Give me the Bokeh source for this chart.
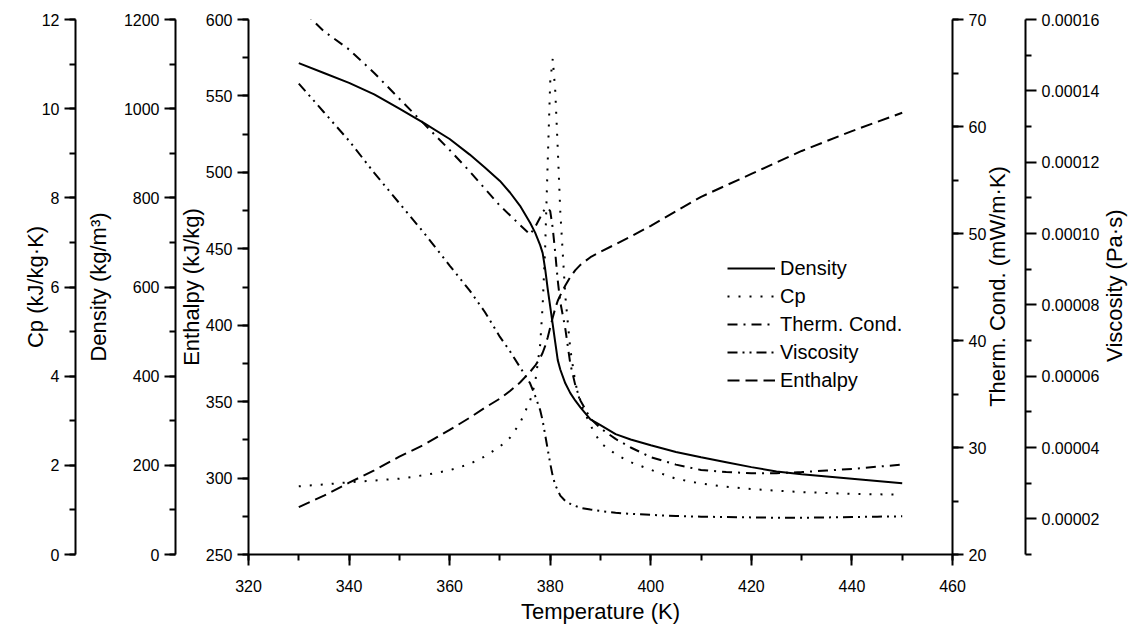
import math
from bokeh.plotting import figure
from bokeh.models import (LinearAxis, Range1d, FixedTicker, PrintfTickFormatter)
from bokeh.embed import file_html
from bokeh.resources import INLINE

temperature = [330, 335, 340, 345, 350, 355, 360, 364, 367, 370, 372, 374, 376, 377, 378,
               378.5, 379, 379.5, 380, 380.5, 381, 381.5, 382, 383, 384, 385, 386, 388, 390,
               393, 396, 400, 405, 410, 415, 420, 425, 430, 435, 440, 445, 450]

density = [1102, 1080, 1058, 1032, 1000, 967, 932, 897, 868, 838, 812, 782, 744, 722, 694,
           676, 640, 596, 556, 516, 476, 436, 415, 384, 362, 345, 330, 303, 290,
           270, 258, 245, 230, 218, 207, 196, 186, 180, 175, 170, 165, 160]

cp = [1.53, 1.57, 1.62, 1.66, 1.70, 1.78, 1.89, 2.03, 2.2, 2.42, 2.62, 2.95, 3.45, 3.85, 4.7,
      5.6, 6.9, 8.8, 10.6, 11.12, 10.4, 9.1, 7.7, 5.8, 4.6, 3.85, 3.4, 2.9, 2.5,
      2.25, 2.07, 1.9, 1.7, 1.59, 1.52, 1.47, 1.43, 1.40, 1.38, 1.36, 1.35, 1.34]

therm_cond = [71.2, 68.9, 67.2, 65.0, 62.6, 60.2, 57.8, 55.8, 54.2, 52.6, 51.7, 50.8, 49.9, 50.6, 51.5,
              52.0, 52.3, 52.4, 52.1, 50.5, 48.2, 45.6, 43.6, 41.1, 37.8, 35.8, 34.4, 32.7, 31.8,
              30.8, 30.0, 29.1, 28.4, 27.9, 27.7, 27.6, 27.6, 27.7, 27.85, 28.0, 28.2, 28.4]

viscosity = [1.42e-4, 1.34e-4, 1.26e-4, 1.17e-4, 1.085e-4, 1.0e-4, 9.1e-5, 8.4e-5, 7.8e-5, 7.1e-5,
             6.7e-5, 6.25e-5, 5.8e-5, 5.45e-5, 5.05e-5, 4.75e-5, 4.35e-5, 3.95e-5, 3.55e-5, 3.2e-5,
             2.95e-5, 2.8e-5, 2.65e-5, 2.5e-5, 2.42e-5, 2.36e-5, 2.31e-5, 2.26e-5, 2.22e-5,
             2.17e-5, 2.14e-5, 2.11e-5, 2.08e-5, 2.06e-5, 2.05e-5, 2.04e-5, 2.03e-5, 2.03e-5,
             2.04e-5, 2.05e-5, 2.06e-5, 2.07e-5]

enthalpy = [281, 288.5, 297, 305, 314, 322, 331.5, 339.5, 346, 352, 357, 362.5, 369.5, 373.5, 378.5,
            382, 386.5, 392, 398.5, 405, 411, 416, 419.5, 426, 431.5, 436, 439.5, 444.5, 448,
            453, 458, 465, 474.5, 484, 491.5, 499, 506.5, 514, 520.5, 527, 533, 539]

x_ticks = [320, 340, 360, 380, 400, 420, 440, 460]
enthalpy_ticks = [250, 300, 350, 400, 450, 500, 550, 600]
density_ticks = [0, 200, 400, 600, 800, 1000, 1200]
cp_ticks = [0, 2, 4, 6, 8, 10, 12]
tc_ticks = [20, 30, 40, 50, 60, 70]
visc_ticks = [2e-5, 4e-5, 6e-5, 8e-5, 1.0e-4, 1.2e-4, 1.4e-4, 1.6e-4]
visc_minor = [1e-5, 3e-5, 5e-5, 7e-5, 9e-5, 1.1e-4, 1.3e-4, 1.5e-4]

tc_title = "Therm. Cond. (mW/m·K)"
visc_title = "Viscosity (Pa·s)"
tc_title_at = 33.8        # lower end of the rotated title text (data units of its axis)
visc_title_at = 6.4e-05

FONT = "Liberation Sans"
TICK_FS = "16px"
TITLE_FS = "22px"

p = figure(width=1146, height=633, output_backend="svg", toolbar_location=None,
           x_range=Range1d(320, 460), y_range=Range1d(250, 600),
           min_border_left=248, min_border_right=194, min_border_top=19, min_border_bottom=79)
p.grid.visible = False
p.outline_line_color = None
p.background_fill_color = "white"
p.border_fill_color = "white"

p.extra_y_ranges = {
    "density": Range1d(0, 1200),
    "cp": Range1d(0, 12),
    "tc": Range1d(20, 70),
    "visc": Range1d(1e-5, 1.6e-4),
}


def style(ax, title):
    ax.axis_label = title
    ax.axis_label_text_font = FONT
    ax.axis_label_text_font_size = TITLE_FS
    ax.axis_label_text_font_style = "normal"
    ax.axis_label_text_color = "black"
    ax.major_label_text_font = FONT
    ax.major_label_text_font_size = TICK_FS
    ax.major_label_text_color = "black"
    ax.axis_line_width = 2
    ax.axis_line_color = "black"
    ax.major_tick_line_width = 2
    ax.minor_tick_line_width = 2
    ax.major_tick_line_color = "black"
    ax.minor_tick_line_color = "black"
    ax.major_tick_out = 11
    ax.major_tick_in = 0
    ax.minor_tick_out = 6
    ax.minor_tick_in = 0
    ax.major_label_standoff = 5
    ax.axis_label_standoff = 4


def spacer(range_name, at, gap):
    # blank axis used only to open a gap between two stacked axes
    return LinearAxis(y_range_name=range_name, ticker=FixedTicker(ticks=[at]),
                      major_label_overrides={at: " "}, major_label_text_font_size="4px",
                      axis_line_color=None, major_tick_line_color=None,
                      minor_tick_line_color=None, major_tick_out=0, major_tick_in=0,
                      minor_tick_out=0, minor_tick_in=0, major_label_standoff=gap)


def title_axis(range_name, at, text, standoff):
    return LinearAxis(y_range_name=range_name, ticker=FixedTicker(ticks=[at]),
                      major_label_overrides={at: text},
                      major_label_orientation=math.pi / 2,
                      major_label_text_font=FONT, major_label_text_font_size=TITLE_FS,
                      major_label_text_color="black",
                      axis_line_color=None, major_tick_line_color=None,
                      minor_tick_line_color=None, major_tick_out=0, major_tick_in=0,
                      minor_tick_out=0, minor_tick_in=0, major_label_standoff=standoff)


# x axis
xa = p.xaxis[0]
style(xa, "Temperature (K)")
xa.ticker = FixedTicker(ticks=x_ticks, minor_ticks=list(range(320, 461, 10)))
xa.major_label_standoff = 14
xa.axis_label_standoff = 4

# enthalpy (main left axis)
ya = p.yaxis[0]
style(ya, "Enthalpy (kJ/kg)")
ya.ticker = FixedTicker(ticks=enthalpy_ticks, minor_ticks=list(range(250, 601, 25)))
ya.axis_label_standoff = -1

ax_d = LinearAxis(y_range_name="density")
style(ax_d, "Density (kg/m³)")
ax_d.ticker = FixedTicker(ticks=density_ticks, minor_ticks=list(range(0, 1201, 100)))
ax_d.axis_label_standoff = 10
p.add_layout(ax_d, "left")

p.add_layout(spacer("cp", 6, 3), "left")

ax_cp = LinearAxis(y_range_name="cp")
style(ax_cp, "Cp (kJ/kg·K)")
ax_cp.ticker = FixedTicker(ticks=cp_ticks, minor_ticks=list(range(0, 13, 1)))
ax_cp.axis_label_standoff = -9
p.add_layout(ax_cp, "left")

ax_tc = LinearAxis(y_range_name="tc")
style(ax_tc, None)
ax_tc.ticker = FixedTicker(ticks=tc_ticks, minor_ticks=list(range(20, 71, 5)))
p.add_layout(ax_tc, "right")

p.add_layout(title_axis("tc", tc_title_at, tc_title, 8), "right")

ax_v = LinearAxis(y_range_name="visc")
style(ax_v, None)
ax_v.ticker = FixedTicker(ticks=visc_ticks, minor_ticks=visc_minor)
ax_v.formatter = PrintfTickFormatter(format="%.5f")
p.add_layout(ax_v, "right")

p.add_layout(title_axis("visc", visc_title_at, visc_title, 12), "right")

LW = 2
p.line(temperature, density, y_range_name="density", line_color="black", line_width=LW,
       legend_label="Density")
p.line(temperature, cp, y_range_name="cp", line_color="black", line_width=LW,
       line_dash="2 9", legend_label="Cp")
p.line(temperature, therm_cond, y_range_name="tc", line_color="black", line_width=LW,
       line_dash="10 6 2 6", legend_label="Therm. Cond.")
p.line(temperature, viscosity, y_range_name="visc", line_color="black", line_width=LW,
       line_dash="10 5 2 5 2 5", legend_label="Viscosity")
p.line(temperature, enthalpy, line_color="black", line_width=LW,
       line_dash="12 6", legend_label="Enthalpy")

lg = p.legend[0]
lg.location = (479, 162)
lg.label_text_font = FONT
lg.label_text_font_size = "20px"
lg.label_text_color = "black"
lg.glyph_width = 48
lg.glyph_height = 24
lg.label_height = 24
lg.label_standoff = 5
lg.spacing = 4
lg.padding = 0
lg.margin = 0
lg.border_line_color = None
lg.background_fill_alpha = 0

open("out.html", "w").write(file_html(p, INLINE))
